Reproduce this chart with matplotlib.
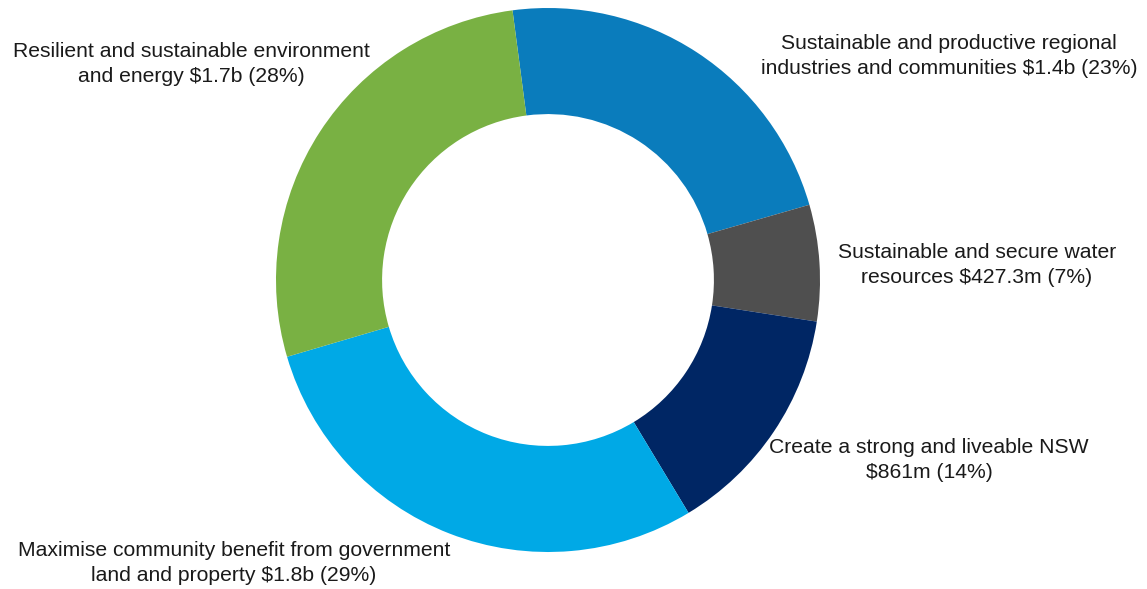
import matplotlib.pyplot as plt

plt.rcParams['font.family'] = ['Liberation Sans', 'DejaVu Sans']

# Spending by outcome, $ million
outcomes = ['Sustainable and productive regional\nindustries and communities $1.4b (23%)',
            'Sustainable and secure water\nresources $427.3m (7%)',
            'Create a strong and liveable NSW\n$861m (14%)',
            'Maximise community benefit from government\nland and property $1.8b (29%)',
            'Resilient and sustainable environment\nand energy $1.7b (28%)']
amounts = [1400, 427.3, 861, 1800, 1700]
colors = ['#0A7CBC', '#4F4F4F', '#002664', '#00A9E6', '#79B143']

# label anchor points in pixel space (x, y from top)
label_x = [949, 977, 929, 234, 191]
label_y = [56, 265, 460, 563, 64]

W, H = 1147, 589
fig = plt.figure(figsize=(W / 100, H / 100), dpi=100)
ax = fig.add_axes([0, 0, 1, 1])
ax.set_xlim(0, W)
ax.set_ylim(0, H)
ax.set_aspect('equal')
ax.axis('off')

ax.pie(amounts, colors=colors, startangle=97.5, counterclock=False,
       center=(548, H - 280), radius=272,
       wedgeprops=dict(width=272 * 0.39, linewidth=0))

for txt, x, y in zip(outcomes, label_x, label_y):
    ax.text(x, H - y, txt, ha='center', va='center', fontsize=15.2,
            color='#1a1a1a', linespacing=1.4)

ax.set_xlim(0, W)
ax.set_ylim(0, H)

fig.savefig('out.png', dpi=100)
